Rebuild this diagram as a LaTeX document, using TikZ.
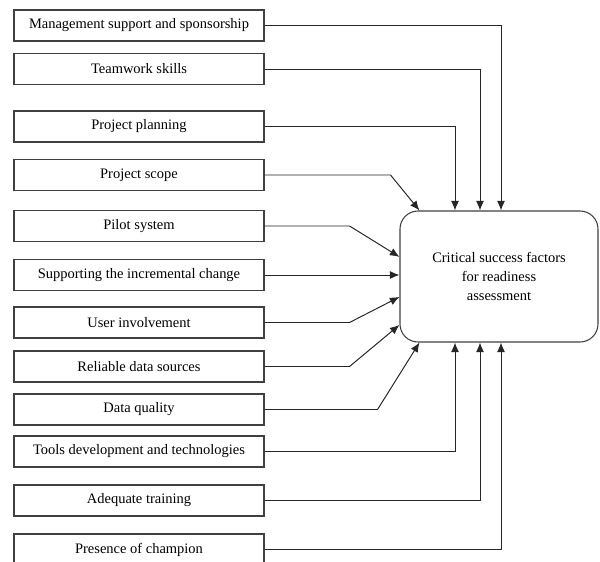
\documentclass[tikz,border=0pt]{standalone}
\usepackage{fontspec}
\setmainfont{Liberation Serif}
\usetikzlibrary{shapes,arrows,arrows.meta,positioning}

\begin{document}
\begin{tikzpicture}[x=0.25mm,y=-0.25mm,
	factor/.style={draw=black!75, line width=0.75pt, minimum width=62.5mm, minimum height=7.75mm, inner sep=0pt, font=\fontsize{10.3}{12}\selectfont},
	csfbox/.style={draw=black!75, line width=0.75pt, rounded corners=4.5mm, minimum width=49.5mm, minimum height=32.75mm, align=center, font=\fontsize{10.3}{13.5}\selectfont},
	conn/.style={black!85, line width=0.7pt, -{Latex[length=2.4mm,width=2mm]}}]
	
	\clip (0,0) rectangle (600,562); %marco
	
%factores
	\node[factor] (mgmt) at (139,25.5) {Management support and sponsorship};
	\node[factor] (team) at (139,69) {Teamwork skills};
	\node[factor] (plan) at (139,126.5) {Project planning};
	\node[factor] (scope) at (139,175) {Project scope};
	\node[factor] (pilot) at (139,226) {Pilot system};
	\node[factor] (support) at (139,275) {Supporting the incremental change};
	\node[factor] (user) at (139,322.5) {User involvement};
	\node[factor] (reliable) at (139,366.5) {Reliable data sources};
	\node[factor] (quality) at (139,409.5) {Data quality};
	\node[factor] (tools) at (139,451.5) {Tools development and technologies};
	\node[factor] (training) at (139,500.5) {Adequate training};
	\node[factor] (champion) at (139,549.5) {Presence of champion};
	
%caja central
	\node[csfbox] (csf) at (499,276.5) {Critical success factors\\ for readiness\\ assessment};
	
%flechas arriba
	\draw[conn] (mgmt.east) -| ([xshift=0.5mm]csf.north);
	\draw[conn] (team.east) -| ([xshift=-4.75mm]csf.north);
	\draw[conn] (plan.east) -| ([xshift=-11mm]csf.north);
	\draw[conn] (scope.east) -- ++(126,0) -- ([xshift=5mm]csf.north west);
	
%flechas izquierda
	\draw[conn] (pilot.east) -- ++(85,0) -- ([yshift=4.9mm]csf.west);
	\draw[conn] (support.east) -- (support.east -| csf.west);
	\draw[conn] (user.east) -- ++(85,0) -- ([yshift=-5.1mm]csf.west);
	\draw[conn] (reliable.east) -- ++(85,0) -- ([yshift=-12.1mm]csf.west);
	
%flechas abajo
	\draw[conn] (quality.east) -- ++(113,0) -- ([xshift=5mm]csf.south west);
	\draw[conn] (tools.east) -| ([xshift=-11mm]csf.south);
	\draw[conn] (training.east) -| ([xshift=-4.75mm]csf.south);
	\draw[conn] (champion.east) -| ([xshift=0.5mm]csf.south);
\end{tikzpicture}
\end{document}
